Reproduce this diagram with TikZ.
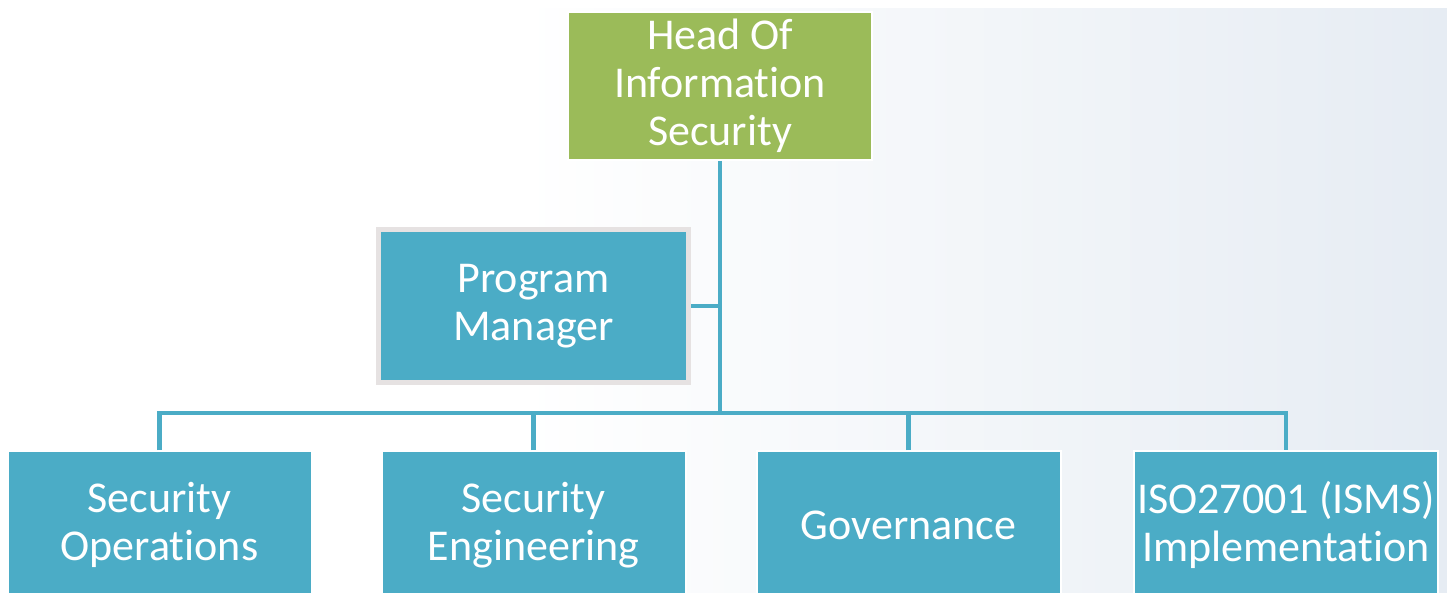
\documentclass[tikz,border=0pt]{standalone}
\usepackage{fontspec}
\setmainfont[Ligatures=NoCommon]{Carlito}
\definecolor{teal}{HTML}{4BACC6}
\definecolor{leaf}{HTML}{9BBB59}
\definecolor{pmframe}{HTML}{E6E2E2}
\definecolor{bgblue}{HTML}{E6ECF3}
\definecolor{bgmid}{HTML}{F3F6F9}
\tikzset{
  unit/.style={x=1pt,y=-1pt},
  orgbox/.style={rectangle, fill=teal, text=white, align=center, inner sep=0pt,
    minimum width=304pt, minimum height=148pt,
    font=\fontsize{44}{48}\selectfont},
  headbox/.style={orgbox, fill=leaf, draw=white, line width=2pt},
  pmbox/.style={orgbox, draw=pmframe, line width=5pt, minimum width=310pt, minimum height=153pt},
  bottombox/.style={orgbox, draw=white, line width=2pt},
  link/.style={draw=teal, line width=4.5pt}
}
\begin{document}
\begin{tikzpicture}[unit]
\useasboundingbox (0,0) rectangle (1447,593);
\clip (0,0) rectangle (1447,593);
\fill[white] (0,0) rectangle (1447,593);
% faint textured background on the right
\shade[left color=white, middle color=bgmid, right color=bgblue, shading angle=90] (520,8) rectangle (1447,593);
\fill[white] (0,0) rectangle (1447,8);

\node[headbox] (head) at (720,86) {Head Of\\Information\\Security};
\node[pmbox] (pm) at (533.5,306) {Program\\Manager};
\node[bottombox] (b1) at (159.5,525) {Security\\Operations};
\node[bottombox] (b2) at (533.5,525) {Security\\Engineering};
\node[bottombox] (b3) at (908.5,525) {Governance};
\node[bottombox] (b4) at (1286,525) {ISO27001 (ISMS)\\Implementation};

\coordinate (bus) at (720,413);
\draw[link] (head.south) -- (bus);
\draw[link] (pm.east) -- (pm.east -| head.south);
\draw[link, line join=miter] (b1.north) |- (bus) -| (b4.north);
\draw[link] (b2.north) -- (b2.north |- bus);
\draw[link] (b3.north) -- (b3.north |- bus);
\end{tikzpicture}
\end{document}
